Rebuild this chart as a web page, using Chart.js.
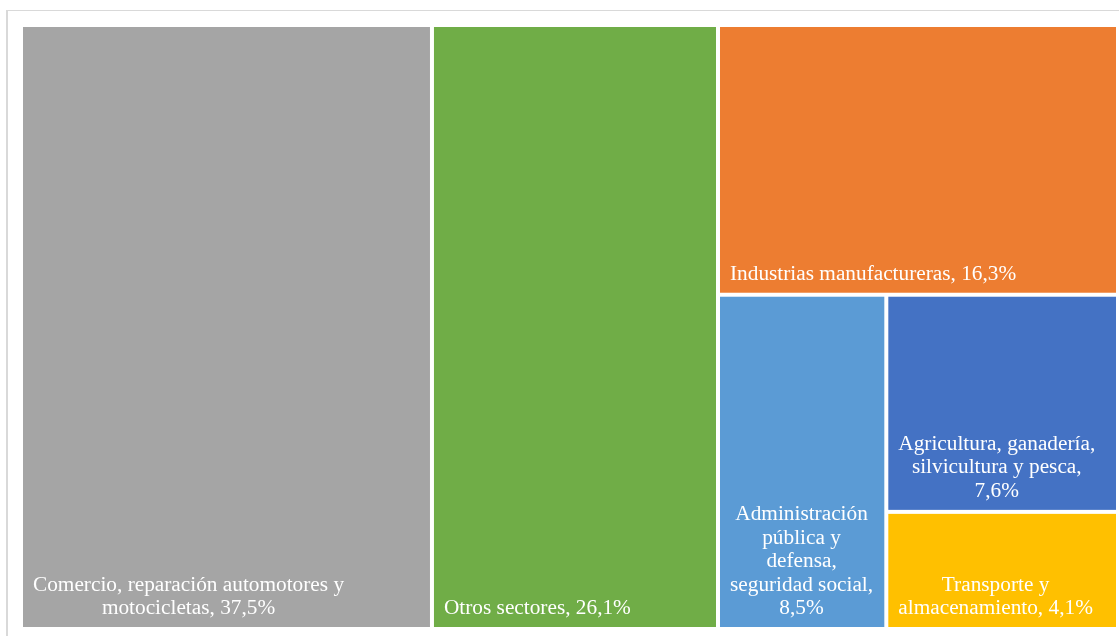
<!DOCTYPE html>
<html>
<head>
<meta charset="utf-8">
<script src="https://cdn.jsdelivr.net/npm/chart.js@4.4.1/dist/chart.umd.min.js"></script>
<style>
  html, body { margin: 0; padding: 0; background: #ffffff; overflow: hidden; }
  .frame {
    position: absolute; left: 6px; top: 10px; width: 1200px; height: 700px;
    border-left: 2px solid #d9d9d9; border-top: 1px solid #d9d9d9;
  }
  #chart { position: absolute; left: 0; top: 0; }
</style>
</head>
<body>
<div class="frame"></div>
<canvas id="chart" width="1119" height="636"></canvas>
<script>
var sectors = [
    'Comercio, reparación automotores y motocicletas',
    'Otros sectores',
    'Industrias manufactureras',
    'Administración pública y defensa, seguridad social',
    'Agricultura, ganadería, silvicultura y pesca',
    'Transporte y almacenamiento'
];
var shares = [37.5, 26.1, 16.3, 8.5, 7.6, 4.1];
var sectorColors = ['#a5a5a5', '#70ad47', '#ed7d31', '#5b9bd5', '#4472c4', '#ffc000'];

function fmtShare(v) {
    return v.toFixed(1).replace('.', ',') + '%';
}

// Slice each item off the longer side of the remaining area, biggest first
function layoutTiles(chart) {
    var xs = chart.scales.x, ys = chart.scales.y;
    var order = shares.map(function(v, i) { return i; })
        .sort(function(a, b) { return shares[b] - shares[a]; });
    var rest = order.reduce(function(s, i) { return s + shares[i]; }, 0);
    var r = { x0: 0, x1: 1, y0: 0, y1: 1 };
    var tiles = [];
    order.forEach(function(i) {
        var f = shares[i] / rest;
        var wPx = Math.abs(xs.getPixelForValue(r.x1) - xs.getPixelForValue(r.x0));
        var hPx = Math.abs(ys.getPixelForValue(r.y1) - ys.getPixelForValue(r.y0));
        var t;
        if (wPx >= hPx) {
            var xm = r.x0 + (r.x1 - r.x0) * f;
            t = { x0: r.x0, x1: xm, y0: r.y0, y1: r.y1 };
            r = { x0: xm, x1: r.x1, y0: r.y0, y1: r.y1 };
        } else {
            var ym = r.y0 + (r.y1 - r.y0) * f;
            t = { x0: r.x0, x1: r.x1, y0: r.y0, y1: ym };
            r = { x0: r.x0, x1: r.x1, y0: ym, y1: r.y1 };
        }
        t.index = i;
        tiles.push(t);
        rest -= shares[i];
    });
    return tiles;
}

function wrapWords(ctx, text, maxW) {
    var words = text.split(' ');
    var lines = [];
    var cur = '';
    words.forEach(function(w) {
        var test = cur ? cur + ' ' + w : w;
        if (cur && ctx.measureText(test).width > maxW) {
            lines.push(cur);
            cur = w;
        } else {
            cur = test;
        }
    });
    if (cur) lines.push(cur);
    return lines;
}

var treemapPlugin = {
    id: 'treemapTiles',
    afterDraw: function(chart) {
        var ctx = chart.ctx;
        var xs = chart.scales.x, ys = chart.scales.y;
        var gap = 2;
        layoutTiles(chart).forEach(function(t) {
            var left = xs.getPixelForValue(t.x0) + gap;
            var right = xs.getPixelForValue(t.x1) - gap;
            var top = ys.getPixelForValue(t.y0) + gap;
            var bottom = ys.getPixelForValue(t.y1) - gap;
            ctx.save();
            ctx.fillStyle = sectorColors[t.index];
            ctx.fillRect(left, top, right - left, bottom - top);

            // label block sits at the bottom-left, lines centred within it
            ctx.font = '21.3px "Liberation Serif", "Times New Roman", serif';
            ctx.fillStyle = '#ffffff';
            ctx.textBaseline = 'alphabetic';
            ctx.textAlign = 'center';
            var text = sectors[t.index] + ', ' + fmtShare(shares[t.index]);
            var lines = wrapWords(ctx, text, right - left - 20);
            var blockW = Math.max.apply(null, lines.map(function(l) { return ctx.measureText(l).width; }));
            var cx = left + 10 + blockW / 2;
            var lineH = 23.5;
            var base = bottom - 13 - (lines.length - 1) * lineH;
            lines.forEach(function(l, k) {
                ctx.fillText(l, cx, base + k * lineH);
            });
            ctx.restore();
        });
    }
};

new Chart(document.getElementById('chart'), {
    type: 'scatter',
    data: { datasets: [] },
    options: {
        responsive: false,
        animation: false,
        devicePixelRatio: 1,
        layout: { padding: { left: 21, top: 25, right: 1, bottom: 7 } },
        scales: {
            x: { type: 'linear', min: 0, max: 1, display: false },
            y: { type: 'linear', min: 0, max: 1, reverse: true, display: false }
        },
        plugins: {
            legend: { display: false },
            tooltip: { enabled: false }
        }
    },
    plugins: [treemapPlugin]
});
</script>
</body>
</html>
